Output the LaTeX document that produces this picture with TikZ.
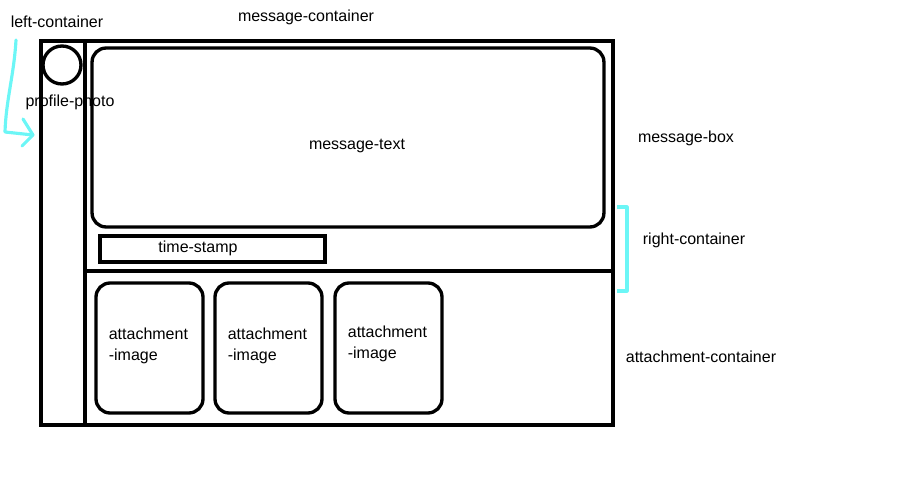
\documentclass[tikz,border=0pt]{standalone}
\usepackage{fontspec}
\setmainfont{Liberation Sans}
\usetikzlibrary{positioning}
\definecolor{hint-cyan}{HTML}{6CF6F6}
\tikzset{
    frame-box/.style = {draw=black, line width=1.9pt, rectangle, inner sep=0pt},
    rounded-box/.style = {frame-box, rounded corners=8pt},
    frame-line/.style = {draw=black, line width=1.9pt},
    label-text/.style = {font=\fontsize{9.1}{12}\selectfont, inner sep=0pt},
    hint-line/.style = {draw=hint-cyan, line width=1.8pt, line cap=round, line join=round},
}

\begin{document}
\begin{tikzpicture}[x=0.02cm, y=-0.02cm]
\useasboundingbox (0,0) rectangle (900,480);
% outer frame
\node[frame-box, minimum width=11.44cm, minimum height=7.68cm] (message-box) at (327,233) {};
\coordinate (divider-top) at (85,41);
\coordinate (divider-bottom) at (85,425);
\coordinate (split-left) at (85,271);
\coordinate (split-right) at (613,271);
\draw[frame-line] (divider-top) -- (divider-bottom);
\draw[frame-line] (split-left) -- (split-right);

% left column
\node[frame-box, circle, minimum size=0.76cm] (profile-photo) at (62,65) {};
\node[label-text] (profile-label) at (70,102) {profile-photo};

% right column
\node[rounded-box, minimum width=10.24cm, minimum height=3.58cm] (message-text) at (348,137.5) {};
\node[label-text] (message-label) at (357,146) {message-text};
\node[frame-box, minimum width=4.5cm, minimum height=0.52cm] (time-stamp) at (212.5,249) {};
\node[label-text] (time-label) at (198,248) {time-stamp};
\foreach \i/\x/\y in {1/149.5/346, 2/268.5/346, 3/388.5/344} {
    \node[rounded-box, minimum width=2.14cm, minimum height=2.6cm] (attachment-\i) at (\x,348) {};
    \node[label-text, align=left, anchor=west] (attachment-label-\i) at ([xshift=-0.82cm]\x,\y) {attachment\\-image};
}

% names around the frame
\node[label-text] (left-container) at (57,22) {left-container};
\node[label-text] (message-container) at (306,17) {message-container};
\node[label-text] (message-box-label) at (686,138) {message-box};
\node[label-text] (right-container) at (694,240) {right-container};
\node[label-text] (attachment-container) at (701,357) {attachment-container};

% cyan hints
\coordinate (arrow-start) at (16,40);
\coordinate (arrow-end) at (33,135);
\draw[hint-line] (arrow-start) .. controls (14,75) and (6,100) .. (5,132) -- (arrow-end);
\draw[hint-line] (23,119) -- (arrow-end) -- (22,146);
\coordinate (bracket-top) at (617,207);
\coordinate (bracket-bottom) at (617,291);
\draw[hint-line, line cap=butt] (bracket-top) -| (627,291) -- (bracket-bottom);
\end{tikzpicture}
\end{document}
